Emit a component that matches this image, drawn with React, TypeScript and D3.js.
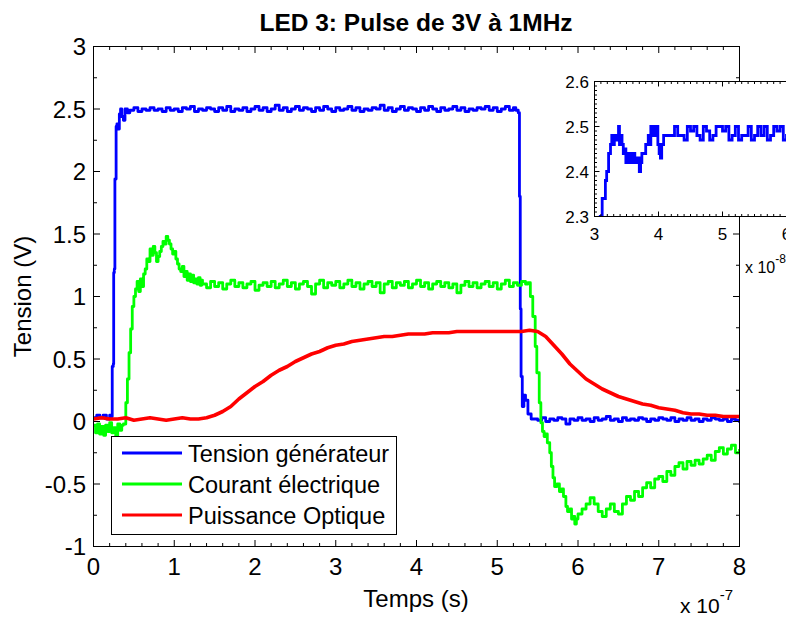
import React from "react";
import * as d3 from "d3";

// ---------- DATA (time in units of 1e-7 s, tension in V) ----------
const xTicks = [0, 1, 2, 3, 4, 5, 6, 7, 8];
const yTicks = [-1, -0.5, 0, 0.5, 1, 1.5, 2, 2.5, 3];
const insetXTicks = [3, 4, 5, 6];
const insetYTicks = [2.3, 2.4, 2.5, 2.6];
const seriesNames = ["Tension générateur", "Courant électrique", "Puissance Optique"];
const seriesColors = ["#0000ff", "#00ff00", "#ff0000"];

// Blue: Tension générateur
const blueStart: [number, number][] = [
  [0.0, 0.03], [0.04, 0.05], [0.08, 0.03], [0.12, 0.05], [0.16, 0.02], [0.2, 0.05], [0.225, 0.04],
  [0.232, 0.44], [0.245, 0.46], [0.25, 1.19], [0.258, 1.22], [0.265, 1.94], [0.28, 2.36], [0.29, 2.38],
  [0.305, 2.34], [0.32, 2.46], [0.335, 2.5], [0.35, 2.44], [0.37, 2.41], [0.39, 2.5], [0.42, 2.47],
];
const bluePlateau = [
  2.49, 2.51, 2.48, 2.5, 2.49, 2.51, 2.49, 2.5, 2.48, 2.51,
  2.49, 2.5, 2.48, 2.51, 2.5, 2.52, 2.48, 2.5, 2.49, 2.51,
  2.5, 2.48, 2.51, 2.49, 2.52, 2.48, 2.5, 2.49, 2.51, 2.48,
  2.5, 2.52, 2.49, 2.51, 2.48, 2.5, 2.53, 2.49, 2.51, 2.48,
  2.5, 2.52, 2.49, 2.51, 2.5, 2.48, 2.51, 2.49, 2.52, 2.5,
  2.48, 2.51, 2.49, 2.5, 2.52, 2.49, 2.51, 2.48, 2.5, 2.49,
  2.51, 2.5, 2.53, 2.49, 2.51, 2.48, 2.5, 2.52, 2.49, 2.51,
  2.5, 2.48, 2.51, 2.49, 2.52, 2.5, 2.48, 2.51, 2.49, 2.5,
  2.52, 2.49, 2.51, 2.48, 2.5, 2.49, 2.51, 2.5, 2.52, 2.49,
  2.51, 2.48, 2.5, 2.52, 2.49, 2.51,
]; // t = 0.45 .. 5.20 step 0.05
const blueFall: [number, number][] = [
  [5.23, 2.49], [5.26, 2.47], [5.275, 1.8], [5.285, 0.9], [5.295, 0.36], [5.31, 0.12],
  [5.33, 0.21], [5.35, 0.17], [5.38, 0.06], [5.42, 0.02],
];
const blueTail = [
  0.02, 0.01, 0.03, 0.0, 0.02, 0.01, 0.03, 0.02, -0.02, 0.02,
  0.01, 0.03, 0.01, 0.02, 0.0, 0.03, 0.01, 0.02, 0.04, 0.01,
  0.02, 0.0, 0.03, 0.01, 0.02, 0.01, 0.03, 0.02, 0.0, 0.02,
  0.01, 0.03, 0.02, 0.01, 0.03, 0.0, 0.02, 0.01, 0.03, 0.01,
  0.02, 0.0, 0.02, 0.01, 0.03, 0.02, 0.01, 0.02, 0.0, 0.02,
  0.01, -0.01,
]; // t = 5.45 .. 8.00 step 0.05

// Green: Courant électrique
const greenStart = [
  -0.03, -0.09, -0.02, -0.1, -0.04, -0.11, -0.03, -0.08, -0.01, -0.09, -0.05, -0.12, -0.02, -0.07, -0.03,
]; // t = 0 .. 0.35 step 0.025
const greenRise: [number, number][] = [
  [0.37, -0.02], [0.4, 0.15], [0.42, 0.34], [0.44, 0.55], [0.46, 0.74], [0.48, 0.92], [0.5, 1.0],
  [0.52, 1.06], [0.54, 1.12], [0.56, 1.04], [0.58, 1.14], [0.6, 1.08], [0.62, 1.18], [0.64, 1.22],
  [0.66, 1.3], [0.68, 1.28], [0.7, 1.38], [0.72, 1.33], [0.74, 1.4], [0.76, 1.35], [0.78, 1.28],
  [0.8, 1.32], [0.82, 1.36], [0.84, 1.4], [0.86, 1.44], [0.88, 1.42], [0.9, 1.48], [0.92, 1.45],
  [0.94, 1.42], [0.96, 1.38], [0.98, 1.34], [1.0, 1.36], [1.02, 1.3], [1.04, 1.26], [1.06, 1.22],
  [1.08, 1.2], [1.1, 1.24], [1.12, 1.16], [1.14, 1.2], [1.16, 1.13], [1.18, 1.18], [1.2, 1.12],
  [1.22, 1.17], [1.24, 1.11], [1.26, 1.14], [1.28, 1.1], [1.3, 1.15], [1.32, 1.09], [1.34, 1.13],
];
const greenPlateau = [
  1.1, 1.07, 1.12, 1.08, 1.11, 1.06, 1.1, 1.13, 1.08, 1.11,
  1.07, 1.1, 1.12, 1.05, 1.09, 1.11, 1.08, 1.12, 1.07, 1.1,
  1.13, 1.08, 1.11, 1.06, 1.1, 1.12, 1.08, 1.02, 1.1, 1.13,
  1.07, 1.11, 1.09, 1.12, 1.07, 1.1, 1.13, 1.08, 1.11, 1.06,
  1.1, 1.12, 1.08, 1.11, 1.03, 1.1, 1.12, 1.07, 1.11, 1.09,
  1.12, 1.07, 1.1, 1.13, 1.08, 1.11, 1.06, 1.1, 1.12, 1.08,
  1.11, 1.07, 1.1, 1.03, 1.09, 1.12, 1.08, 1.11, 1.07, 1.1,
  1.12, 1.08, 1.11, 1.06, 1.1, 1.13, 1.08, 1.11, 1.09, 1.12,
  1.1,
]; // t = 1.35 .. 5.35 step 0.05
const greenFall: [number, number][] = [
  [5.38, 1.11], [5.41, 1.0], [5.44, 0.84], [5.47, 0.6], [5.49, 0.39], [5.52, 0.15], [5.54, -0.01],
  [5.56, -0.08], [5.58, -0.12], [5.6, -0.1], [5.62, -0.17], [5.65, -0.25], [5.67, -0.36], [5.69, -0.45],
  [5.71, -0.52], [5.74, -0.5], [5.77, -0.56], [5.8, -0.54], [5.82, -0.6], [5.85, -0.68], [5.87, -0.72],
  [5.9, -0.7], [5.92, -0.78], [5.94, -0.76], [5.96, -0.82], [5.98, -0.78], [6.0, -0.74],
];
const greenTail = [
  -0.7, -0.66, -0.61, -0.66, -0.72, -0.76, -0.7, -0.66, -0.72, -0.74,
  -0.66, -0.6, -0.63, -0.56, -0.6, -0.53, -0.49, -0.53, -0.46, -0.44,
  -0.48, -0.4, -0.43, -0.36, -0.33, -0.38, -0.32, -0.35, -0.31, -0.34,
  -0.3, -0.27, -0.31, -0.24, -0.21, -0.26, -0.22, -0.19, -0.25, -0.22,
]; // t = 6.05 .. 8.00 step 0.05

// Red: Puissance Optique, t = 0 .. 8 step 0.1
const redValues = [
  0.02, 0.03, 0.02, 0.02, 0.03, 0.01, 0.02, 0.03, 0.02, 0.01, 0.02, 0.03, 0.02, 0.02, 0.03,
  0.05, 0.08, 0.12, 0.18, 0.23, 0.28, 0.32, 0.37, 0.41, 0.44, 0.48, 0.51, 0.54, 0.56, 0.59,
  0.61, 0.62, 0.64, 0.65, 0.66, 0.67, 0.68, 0.68, 0.69, 0.7, 0.7, 0.7, 0.71, 0.71, 0.71,
  0.72, 0.72, 0.72, 0.72, 0.72, 0.72, 0.72, 0.72, 0.72, 0.73, 0.72,
  0.68, 0.61, 0.54, 0.46, 0.4, 0.34, 0.3, 0.26, 0.23, 0.2, 0.18, 0.16, 0.14, 0.13, 0.11,
  0.1, 0.09, 0.07, 0.06, 0.06, 0.05, 0.05, 0.04, 0.04, 0.04,
];

// Inset: zoom on the rising edge (time in units of 1e-8 s)
const insetEdge: [number, number][] = [
  [3.05, 2.28], [3.09, 2.3], [3.12, 2.34], [3.14, 2.34], [3.17, 2.38], [3.19, 2.4], [3.22, 2.44],
  [3.25, 2.46], [3.27, 2.48], [3.29, 2.46], [3.31, 2.48], [3.33, 2.47], [3.35, 2.48], [3.375, 2.5],
  [3.39, 2.46], [3.41, 2.48], [3.43, 2.46], [3.45, 2.44], [3.47, 2.45], [3.49, 2.42], [3.51, 2.44],
  [3.53, 2.42], [3.56, 2.44], [3.58, 2.42], [3.61, 2.44], [3.63, 2.42], [3.66, 2.43], [3.7, 2.4],
  [3.72, 2.42], [3.74, 2.44], [3.77, 2.44], [3.8, 2.46], [3.82, 2.46], [3.84, 2.48], [3.86, 2.46],
  [3.88, 2.5], [3.9, 2.48], [3.92, 2.5], [3.94, 2.48], [3.97, 2.5], [3.99, 2.46], [4.01, 2.44],
  [4.03, 2.43], [4.05, 2.46], [4.08, 2.48],
];
const insetSteady = [
  2.48, 2.48, 2.48, 2.5, 2.48, 2.48, 2.47, 2.5, 2.49, 2.5,
  2.48, 2.47, 2.5, 2.49, 2.47, 2.48, 2.5, 2.5, 2.49, 2.5,
  2.47, 2.48, 2.5, 2.47, 2.48, 2.48, 2.5, 2.47, 2.48, 2.5,
  2.48, 2.5, 2.47, 2.48, 2.5, 2.49, 2.5, 2.47, 2.48, 2.5,
  2.48, 2.48, 2.5, 2.47, 2.48, 2.5, 2.48,
]; // t = 4.10 .. 6.40 step 0.05

// ---------- helpers ----------
const grid = (vals: number[], t0: number, dt: number): [number, number][] =>
  vals.map((v, i) => [+(t0 + i * dt).toFixed(4), v]);

const blueSeries: [number, number][] = [
  ...blueStart, ...grid(bluePlateau, 0.45, 0.05), ...blueFall, ...grid(blueTail, 5.45, 0.05),
];
const greenSeries: [number, number][] = [
  ...grid(greenStart, 0, 0.025), ...greenRise, ...grid(greenPlateau, 1.35, 0.05), ...greenFall,
  ...grid(greenTail, 6.05, 0.05),
];
const redSeries: [number, number][] = grid(redValues, 0, 0.1);
const insetSeries: [number, number][] = [...insetEdge, ...grid(insetSteady, 4.1, 0.05)];

const FONT = "'Liberation Sans', Arial, Helvetica, sans-serif";
const fmt = (v: number) => String(+v.toFixed(2));

export default function App() {
  const W = 786, H = 617;
  const x = d3.scaleLinear().domain([0, 8]).range([93.5, 739.5]);
  const y = d3.scaleLinear().domain([-1, 3]).range([546.5, 46.5]);
  const [x0, x1] = x.range();
  const [yb, yt] = y.range();

  const stepLine = d3.line<[number, number]>().x((d) => x(d[0])).y((d) => y(d[1])).curve(d3.curveStepAfter);
  const smoothLine = d3.line<[number, number]>().x((d) => x(d[0])).y((d) => y(d[1]));

  const xMinor = d3.range(0, 8.001, 0.2).filter((v) => Math.abs(v - Math.round(v)) > 1e-6);
  const yMinor = d3.range(-1, 3.001, 0.25).filter((v) => Math.abs(v * 2 - Math.round(v * 2)) > 1e-6);

  // inset
  const xi = d3.scaleLinear().domain([3, 6.2]).range([594.5, 799.3]);
  const yi = d3.scaleLinear().domain([2.3, 2.6]).range([216.5, 81.5]);
  const [ix0, ix1] = xi.range();
  const [iyb, iyt] = yi.range();
  const insetLine = d3
    .line<[number, number]>()
    .x((d) => xi(d[0]))
    .y((d) => yi(d[1]))
    .curve(d3.curveStepAfter);
  const ixMinor = d3.range(3, 6.2001, 0.1).filter((v) => Math.abs(v - Math.round(v)) > 1e-6);
  const iyMinor = d3.range(2.3, 2.6001, 0.01).filter((v) => Math.abs(v * 10 - Math.round(v * 10)) > 1e-6);

  const MAJ = 6.5, MIN = 3.5;
  const series = [blueSeries, greenSeries, redSeries];
  const FS = 24;

  return (
    <svg
      width={W}
      height={H}
      viewBox={`0 0 ${W} ${H}`}
      style={{ position: "fixed", left: 0, top: 0, background: "#fff", fontFamily: FONT }}
    >
      <rect x={0} y={0} width={W} height={H} fill="#fff" />
      <defs>
        <clipPath id="plotClip">
          <rect x={x0} y={yt} width={x1 - x0} height={yb - yt} />
        </clipPath>
        <clipPath id="insetClip">
          <rect x={ix0} y={iyt} width={ix1 - ix0} height={iyb - iyt} />
        </clipPath>
      </defs>

      {/* title */}
      <text x={416} y={31} textAnchor="middle" fontSize={24.5} fontWeight="bold" fill="#000">
        LED 3: Pulse de 3V à 1MHz
      </text>

      {/* data */}
      <g clipPath="url(#plotClip)">
        {series.map((s, i) => (
          <path
            key={i}
            d={(i === 2 ? smoothLine(s) : stepLine(s)) || ""}
            fill="none"
            stroke={seriesColors[i]}
            strokeWidth={i === 2 ? 3.6 : 2.8}
            strokeLinejoin="round"
          />
        ))}
      </g>

      {/* axes box & ticks */}
      <g stroke="#000" strokeWidth={1} fill="none">
        <rect x={x0} y={yt} width={x1 - x0} height={yb - yt} />
        {xTicks.map((t) => (
          <g key={"xt" + t}>
            <line x1={x(t)} x2={x(t)} y1={yb} y2={yb - MAJ} />
            <line x1={x(t)} x2={x(t)} y1={yt} y2={yt + MAJ} />
          </g>
        ))}
        {xMinor.map((t) => (
          <g key={"xm" + t}>
            <line x1={x(t)} x2={x(t)} y1={yb} y2={yb - MIN} />
            <line x1={x(t)} x2={x(t)} y1={yt} y2={yt + MIN} />
          </g>
        ))}
        {yTicks.map((t) => (
          <g key={"yt" + t}>
            <line x1={x0} x2={x0 + MAJ} y1={y(t)} y2={y(t)} />
            <line x1={x1} x2={x1 - MAJ} y1={y(t)} y2={y(t)} />
          </g>
        ))}
        {yMinor.map((t) => (
          <g key={"ym" + t}>
            <line x1={x0} x2={x0 + MIN} y1={y(t)} y2={y(t)} />
            <line x1={x1} x2={x1 - MIN} y1={y(t)} y2={y(t)} />
          </g>
        ))}
      </g>

      {/* tick labels */}
      <g fontSize={FS} fill="#000">
        {xTicks.map((t) => (
          <text key={"xl" + t} x={x(t)} y={575} textAnchor="middle">
            {fmt(t)}
          </text>
        ))}
        {yTicks.map((t) => (
          <text key={"yl" + t} x={86} y={y(t) + 8.5} textAnchor="end">
            {fmt(t)}
          </text>
        ))}
      </g>

      {/* axis labels */}
      <text x={416} y={607} textAnchor="middle" fontSize={FS} fill="#000">
        Temps (s)
      </text>
      <text transform={`translate(31,${(yt + yb) / 2}) rotate(-90)`} textAnchor="middle" fontSize={FS} fill="#000">
        Tension (V)
      </text>
      <text x={680} y={613} fontSize={21} fill="#000">
        x 10
        <tspan dy={-13} fontSize={15}>-7</tspan>
      </text>

      {/* legend */}
      <g>
        <rect x={111.5} y={436.5} width={285} height={98} fill="#fff" stroke="#000" strokeWidth={1} />
        {seriesNames.map((n, i) => (
          <g key={n}>
            <line x1={122} x2={182} y1={453 + i * 31} y2={453 + i * 31} stroke={seriesColors[i]} strokeWidth={2.8} />
            <text x={188} y={461.5 + i * 31} fontSize={23.5} fill="#000">
              {n}
            </text>
          </g>
        ))}
      </g>

      {/* inset */}
      <g>
        <rect x={ix0} y={iyt} width={ix1 - ix0} height={iyb - iyt} fill="#fff" />
        <g clipPath="url(#insetClip)">
          <path d={insetLine(insetSeries) || ""} fill="none" stroke="#0000ff" strokeWidth={2.8} />
        </g>
        <g stroke="#000" strokeWidth={1} fill="none">
          <rect x={ix0} y={iyt} width={ix1 - ix0} height={iyb - iyt} />
          {insetXTicks.map((t) => (
            <g key={"ixt" + t}>
              <line x1={xi(t)} x2={xi(t)} y1={iyb} y2={iyb - 5} />
              <line x1={xi(t)} x2={xi(t)} y1={iyt} y2={iyt + 5} />
            </g>
          ))}
          {ixMinor.map((t) => (
            <g key={"ixm" + t}>
              <line x1={xi(t)} x2={xi(t)} y1={iyb} y2={iyb - 2.5} />
              <line x1={xi(t)} x2={xi(t)} y1={iyt} y2={iyt + 2.5} />
            </g>
          ))}
          {insetYTicks.map((t) => (
            <line key={"iyt" + t} x1={ix0} x2={ix0 + 5} y1={yi(t)} y2={yi(t)} />
          ))}
          {iyMinor.map((t) => (
            <line key={"iym" + t} x1={ix0} x2={ix0 + 2.5} y1={yi(t)} y2={yi(t)} />
          ))}
        </g>
        <g fontSize={17} fill="#000">
          {insetXTicks.map((t) => (
            <text key={"ixl" + t} x={xi(t)} y={240} textAnchor="middle">
              {fmt(t)}
            </text>
          ))}
          {insetYTicks.map((t) => (
            <text key={"iyl" + t} x={589} y={yi(t) + 6} textAnchor="end">
              {fmt(t)}
            </text>
          ))}
          <text x={745} y={273} fontSize={16}>
            x 10
            <tspan dy={-10} fontSize={12}>-8</tspan>
          </text>
        </g>
      </g>
    </svg>
  );
}
